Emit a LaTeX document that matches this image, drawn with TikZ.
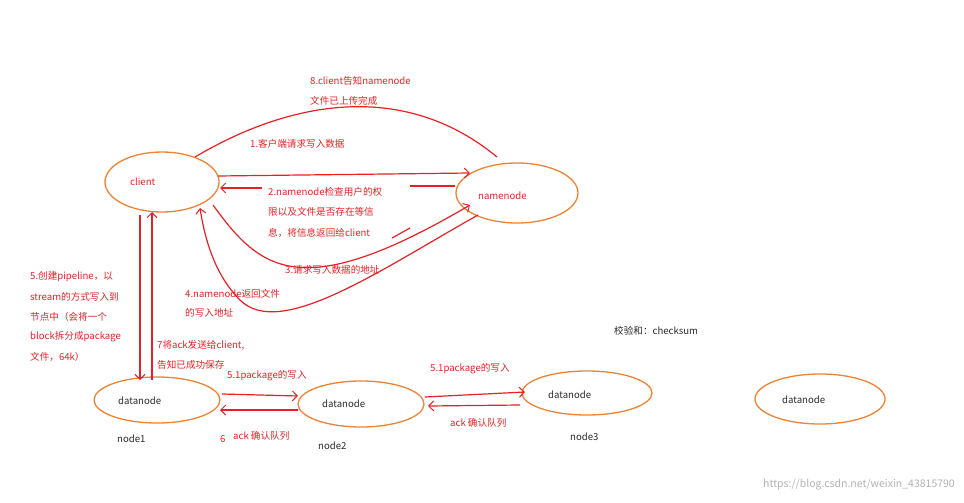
\documentclass[tikz,border=0pt]{standalone}
\usepackage{fontspec}
\setmainfont{Noto Sans CJK SC}
\usetikzlibrary{arrows.meta}
\definecolor{ored}{RGB}{232,32,36}
\definecolor{orng}{RGB}{240,130,50}
\definecolor{dk}{RGB}{40,40,40}
\begin{document}
\begin{tikzpicture}[x=1pt,y=-1pt,
  lab/.style={anchor=west,text=ored,font=\fontsize{9.6}{11}\selectfont,inner sep=0pt},
  dlab/.style={anchor=west,text=dk,font=\fontsize{9.6}{11}\selectfont,inner sep=0pt},
  arr/.style={draw=ored,line width=1.2pt,-{Straight Barb[length=5pt,width=10pt,line width=1pt]}},
  ln/.style={draw=ored,line width=1.2pt}]
\useasboundingbox (0,0) rectangle (964,503);
\draw[draw=orng,line width=1.3pt] (162,182) ellipse [x radius=57,y radius=30];
\draw[draw=orng,line width=1.3pt] (517,193) ellipse [x radius=61,y radius=30];
\draw[draw=orng,line width=1.3pt] (157,400) ellipse [x radius=63,y radius=23];
\draw[draw=orng,line width=1.3pt] (361,404) ellipse [x radius=63,y radius=23];
\draw[draw=orng,line width=1.3pt] (587,393) ellipse [x radius=65,y radius=22];
\draw[draw=orng,line width=1.3pt] (820,399) ellipse [x radius=65,y radius=25];
\node[lab] (tc) at (130,182) {client};
\node[lab] (tn) at (478,196) {namenode};
\node[dlab] (td1) at (118,401) {datanode};
\node[dlab] (td2) at (322,404) {datanode};
\node[dlab] (td3) at (548,395) {datanode};
\node[dlab] (td4) at (782,400) {datanode};
% 8
\draw[ln] (195,157) .. controls (300,95) and (410,85) .. (497,157);
% 1
\draw[arr] (218,176) -- (470,173);
% 2
\draw[ln] (455,186) -- (410,186);
\draw[arr] (262,188) -- (220,188);
\draw[ln] (392,238) -- (410,228);
% 3
\draw[arr] (213,205) .. controls (260,270) and (300,305) .. (470,205);
% 4
\draw[arr] (478,215) .. controls (380,270) and (280,340) .. (240,300) .. controls (215,275) and (205,240) .. (200,208);
% 5 and 7
\draw[arr] (140,215) -- (140,380);
\draw[arr] (152,380) -- (152,212);
% 5.1
\draw[arr] (222,394) -- (298,396);
\draw[arr] (425,397) -- (525,392);
% 6 / ack
\draw[arr] (298,410) -- (220,410);
\draw[arr] (520,405) -- (428,406);
% texts
\node[lab] (t8a) at (310,81) {8.client告知namenode};
\node[lab] (t8b) at (310,101) {文件已上传完成};
\node[lab] (t1) at (250,144) {1.客户端请求写入数据};
\node[lab] (t2a) at (268,192) {2.namenode检查用户的权};
\node[lab] (t2b) at (268,212) {限以及文件是否存在等信};
\node[lab] (t2c) at (268,233) {息，将信息返回给client};
\node[lab] (t3) at (285,270) {3.请求写入数据的地址};
\node[lab] (t4a) at (185,294) {4.namenode返回文件};
\node[lab] (t4b) at (185,313) {的写入地址};
\node[lab] (t5a) at (30,277) {5.创建pipeline，以};
\node[lab] (t5b) at (30,297) {stream的方式写入到};
\node[lab] (t5c) at (30,317) {节点中（会将一个};
\node[lab] (t5d) at (30,337) {block拆分成package};
\node[lab] (t5e) at (30,357) {文件，64k）};
\node[lab] (t7a) at (157,345) {7将ack发送给client,};
\node[lab] (t7b) at (157,365) {告知已成功保存};
\node[lab] (t51a) at (227,376) {5.1package的写入};
\node[lab] (t51b) at (430,369) {5.1package的写入};
\node[lab] (t6) at (220,439) {6};
\node[lab] (tack1) at (233,436) {ack 确认队列};
\node[lab] (tack2) at (450,423) {ack 确认队列};
\node[dlab] (n1) at (117,439) {node1};
\node[dlab] (n2) at (318,446) {node2};
\node[dlab] (n3) at (570,437) {node3};
\node[dlab] (cs) at (614,331) {校验和：checksum};
\node[anchor=east,text=gray!60,font=\fontsize{10.5}{12}\selectfont,inner sep=0pt] (wm) at (955,485) {https://blog.csdn.net/weixin\_43815790};
\end{tikzpicture}
\end{document}
